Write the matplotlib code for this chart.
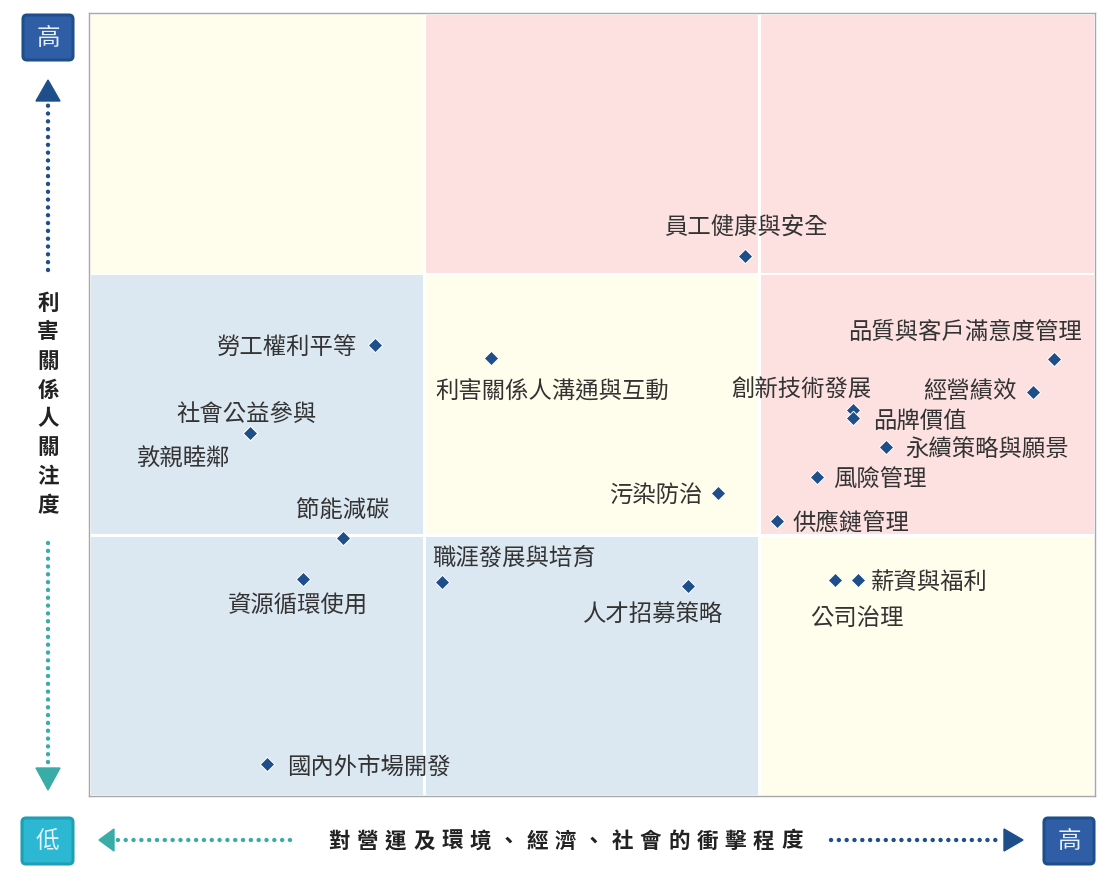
import numpy as np
import matplotlib
matplotlib.use('Agg')
import matplotlib.pyplot as plt
from matplotlib.patches import Rectangle, FancyBboxPatch, Polygon

plt.rcParams['font.family'] = ['Noto Sans CJK TC', 'DejaVu Sans']

# 議題 (衝擊程度, 利害關係人關注度), 0~3
topics = ['員工健康與安全', '品質與客戶滿意度管理', '經營績效', '創新技術發展', '品牌價值',
          '永續策略與願景', '風險管理', '供應鏈管理', '薪資與福利', '公司治理',
          '污染防治', '利害關係人溝通與互動', '勞工權利平等', '社會公益參與', '敦親睦鄰',
          '節能減碳', '資源循環使用', '職涯發展與培育', '人才招募策略', '國內外市場開發']
impact = [1.956, 2.878, 2.815, 2.278, 2.278,
          2.377, 2.171, 2.052, 2.293, 2.225,
          1.876, 1.199, 0.853, 0.480, 0.480,
          0.757, 0.638, 1.053, 1.786, 0.531]
concern = [2.069, 1.674, 1.548, 1.479, 1.448,
           1.337, 1.222, 1.054, 0.828, 0.828,
           1.161, 1.678, 1.728, 1.391, 1.391,
           0.989, 0.831, 0.820, 0.805, 0.123]

# 標籤位置 (pixel offset, 對齊)
label_pos = {
    '員工健康與安全': (1, 30, 'center'),
    '品質與客戶滿意度管理': (-89, 28, 'center'),
    '經營績效': (-16, 2, 'right'),
    '創新技術發展': (-52, 22, 'center'),
    '品牌價值': (20, -1, 'left'),
    '永續策略與願景': (19, 0, 'left'),
    '風險管理': (16, -1, 'left'),
    '供應鏈管理': (15, 0, 'left'),
    '薪資與福利': (13, -1, 'left'),
    '公司治理': (22, -37, 'center'),
    '污染防治': (-16, 0, 'right'),
    '利害關係人溝通與互動': (61, -31, 'center'),
    '勞工權利平等': (-18, 0, 'right'),
    '社會公益參與': (-3, 20, 'center'),
    '敦親睦鄰': (-67, -24, 'center'),
    '節能減碳': (0, 29, 'center'),
    '資源循環使用': (-5, -25, 'center'),
    '職涯發展與培育': (-10, 26, 'left'),
    '人才招募策略': (-35, -27, 'center'),
    '國內外市場開發': (20, -1, 'left'),
}

cell_colors = [['#dbe7f1', '#dbe7f1', '#fffeec'],   # row 0 (bottom)
               ['#dbe7f1', '#fffeec', '#fde1e1'],
               ['#fffeec', '#fde1e1', '#fde1e1']]
dark_blue = '#1f4f8a'
teal = '#3aaca8'
W, H = 1111, 882

fig = plt.figure(figsize=(W / 100, H / 100), dpi=100)

# main plot
L, R, T, B = 89, 1095, 13, 796
ax = fig.add_axes([L / W, (H - B) / H, (R - L) / W, (B - T) / H])
ax.set_xlim(0, 3)
ax.set_ylim(0, 3)
gx, gy = 1.5 * 3 / (R - L), 1.5 * 3 / (B - T)
for r in range(3):
    for c in range(3):
        ax.add_patch(Rectangle((c + gx, r + gy), 1 - 2 * gx, 1 - 2 * gy,
                               facecolor=cell_colors[r][c], edgecolor='none', zorder=0))
ax.set_xticks([])
ax.set_yticks([])
for s in ax.spines.values():
    s.set_color('#a8a8a8')
    s.set_linewidth(1)

ax.scatter(impact, concern, marker='D', s=54, color=dark_blue,
           edgecolors='white', linewidths=0.7, zorder=3)
for name, x, y in zip(topics, impact, concern):
    dx, dy, ha = label_pos[name]
    # CJK glyphs sit a bit high with va='center', nudge down 2px
    ax.annotate(name, (x, y), xytext=(dx, dy - 2), textcoords='offset pixels',
                ha=ha, va='center', fontsize=16.8, color='#333333', zorder=4)

# decorations in pixel coordinates
ov = fig.add_axes([0, 0, 1, 1], facecolor='none')
ov.set_xlim(0, W)
ov.set_ylim(H, 0)
ov.axis('off')


def box(x0, y0, x1, y1, fc, ec, txt):
    ov.add_patch(FancyBboxPatch((x0 + 2, y0 + 2), x1 - x0 - 4, y1 - y0 - 4,
                                boxstyle='round,pad=0,rounding_size=4',
                                facecolor=fc, edgecolor=ec, linewidth=2.2))
    ov.text((x0 + x1) / 2, (y0 + y1) / 2 + 1, txt, ha='center', va='center',
            fontsize=17, color='#e8f0fa')


def dots(xs, ys, color):
    ov.plot(xs, ys, color=color, lw=3.2, ls=(0, (0.01, 1.75)),
            dash_capstyle='round')


box(21, 13, 75, 62, '#2f5ea6', '#1f4f8a', '高')
box(20, 816, 75, 866, '#2cb8d2', '#1e9fb5', '低')
box(1042, 816, 1096, 866, '#2f5ea6', '#1f4f8a', '高')

# vertical arrows
ov.add_patch(Polygon([[48, 80], [36, 101], [60, 101]], closed=True, color=dark_blue))
dots([48, 48], [270, 104], dark_blue)
ov.add_patch(Polygon([[48, 790], [36, 768], [60, 768]], closed=True, color=teal))
dots([48, 48], [543, 766], teal)

# horizontal arrows
ov.add_patch(Polygon([[99, 840], [114, 829], [114, 851]], closed=True, color=teal))
dots([290, 116], [840, 840], teal)
ov.add_patch(Polygon([[1023, 840], [1004, 829], [1004, 851]], closed=True, color=dark_blue))
dots([831, 1002], [840, 840], dark_blue)

# axis titles, one char at a time for spacing
ylab = '利害關係人關注度'
for i, ch in enumerate(ylab):
    ov.text(48, 303 + i * 29, ch, ha='center', va='center', fontsize=15.5,
            fontweight='bold', color='#222222')
xlab = '對營運及環境、經濟、社會的衝擊程度'
xs = np.linspace(339, 792, len(xlab))
for x, ch in zip(xs, xlab):
    ov.text(x, 841, ch, ha='center', va='center', fontsize=15.5,
            fontweight='bold', color='#222222')

fig.savefig('out.png', dpi=100, facecolor='white')
